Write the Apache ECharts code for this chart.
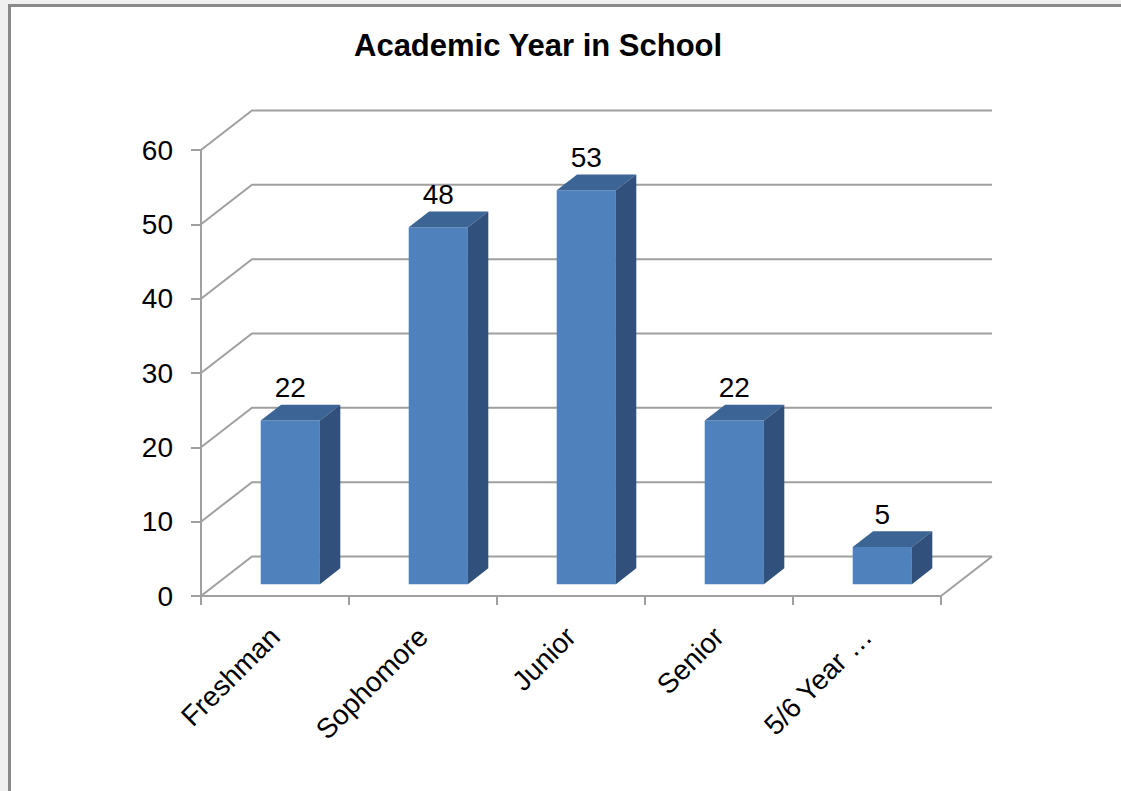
<!DOCTYPE html>
<html>
<head>
<meta charset="utf-8">
<script src="https://cdn.jsdelivr.net/npm/echarts@6/dist/echarts.min.js"></script>
<style>
  html, body { margin: 0; padding: 0; width: 1121px; height: 791px; overflow: hidden; background: #f0f0f0; }
  #frame { position: absolute; left: 8px; top: 4px; right: 0; bottom: 0; background: #ffffff;
           border-left: 3px solid #8a8a8a; border-top: 3px solid #8a8a8a; }
  #chart { position: absolute; left: 0; top: 0; width: 1121px; height: 791px; }
</style>
</head>
<body>
<div id="frame"></div>
<div id="chart"></div>
<script>
const titleText = 'Academic Year in School';
const categories = ['Freshman', 'Sophomore', 'Junior', 'Senior', '5/6 Year …'];
const counts = [22, 48, 53, 22, 5];
const yTicks = [0, 10, 20, 30, 40, 50, 60];

const DX = 51, DY = -39.5;           // depth vector of the 3D box
const GRID = '#a0a0a0';
const FONT = 'Liberation Sans, Arial, sans-serif';

const chart = echarts.init(document.getElementById('chart'), null, { renderer: 'svg' });

function renderGrid(params, api) {
  const v = api.value(1);
  const p = api.coord([0, v]);
  const band = api.size([1, 0])[0];
  const xl = p[0] - band / 2;
  const xr = xl + band * categories.length;
  const y = p[1];
  const children = [{
    type: 'polyline',
    shape: { points: [[xl, y], [xl + DX, y + DY], [xr + DX, y + DY]] },
    style: { stroke: GRID, lineWidth: 2, fill: null }
  }];
  if (v === yTicks[0]) {
    children.push({
      type: 'line',
      shape: { x1: xr, y1: y, x2: xr + DX, y2: y + DY },
      style: { stroke: GRID, lineWidth: 2 }
    });
  }
  return { type: 'group', children };
}

function renderBar(params, api) {
  const i = api.value(0), v = api.value(1);
  const top = api.coord([i, v]);
  const base = api.coord([i, 0]);
  const band = api.size([1, 0])[0];
  const w = band / 2.5;
  const fx = DX * 0.3, fy = DY * 0.3;
  const ddx = DX * 0.4, ddy = DY * 0.4;
  const x0 = top[0] - w / 2 + fx, x1 = x0 + w;
  const yt = top[1] + fy, yb = base[1] + fy;
  return {
    type: 'group',
    children: [
      { type: 'rect', shape: { x: x0, y: yt, width: w, height: yb - yt }, style: { fill: '#4f81bd' } },
      { type: 'polygon', shape: { points: [[x0, yt], [x1, yt], [x1 + ddx, yt + ddy], [x0 + ddx, yt + ddy]] }, style: { fill: '#3c6494' } },
      { type: 'polygon', shape: { points: [[x1, yt], [x1 + ddx, yt + ddy], [x1 + ddx, yb + ddy], [x1, yb]] }, style: { fill: '#31517c' } },
      { type: 'text', style: { text: String(v), x: top[0] + fx, y: yt + ddy - 17, align: 'center', verticalAlign: 'middle',
          fill: '#000', font: '28px ' + FONT } }
    ]
  };
}

chart.setOption({
  animation: false,
  backgroundColor: 'transparent',
  title: {
    text: titleText,
    left: 354, top: 30, padding: 0,
    textStyle: { fontFamily: FONT, fontSize: 31, fontWeight: 'bold', color: '#000' }
  },
  grid: { left: 201, right: 180, top: 150, bottom: 195, containLabel: false },
  xAxis: {
    type: 'category',
    data: categories,
    axisLine: { lineStyle: { color: GRID, width: 2 } },
    axisTick: { show: true, length: 9, lineStyle: { color: GRID, width: 2 } },
    axisLabel: { interval: 0, rotate: 45, margin: 36, color: '#000', fontFamily: FONT, fontSize: 28 },
    splitLine: { show: false }
  },
  yAxis: {
    type: 'value',
    min: 0, max: 60, interval: 10,
    axisLine: { show: true, lineStyle: { color: GRID, width: 2 } },
    axisTick: { show: true, length: 10, lineStyle: { color: GRID, width: 2 } },
    axisLabel: { margin: 28, color: '#000', fontFamily: FONT, fontSize: 28 },
    splitLine: { show: false }
  },
  series: [
    { type: 'custom', name: 'grid', z: 1, clip: false, silent: true,
      data: yTicks.map(v => [0, v]), renderItem: renderGrid },
    { type: 'custom', name: 'Academic Year in School', z: 3, clip: false,
      data: counts.map((v, i) => [i, v]), renderItem: renderBar }
  ]
});
</script>
</body>
</html>
